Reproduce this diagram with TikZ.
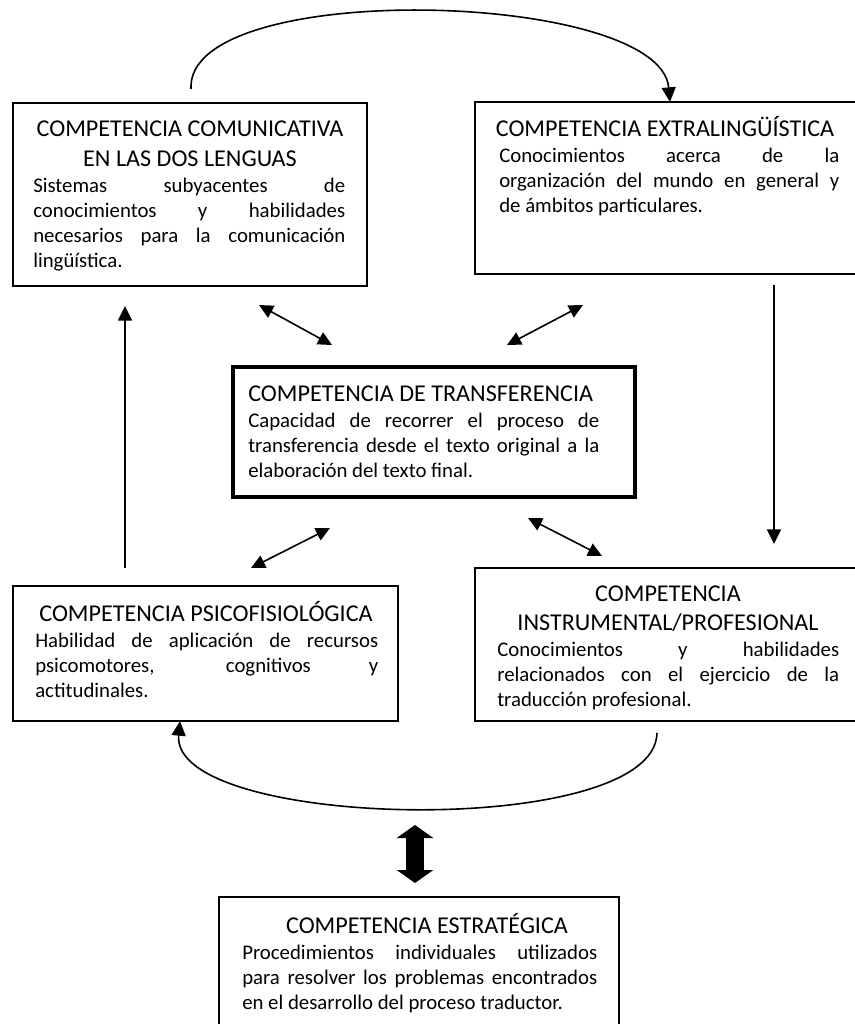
\documentclass[tikz,border=0pt]{standalone}
\usepackage{fontspec}
\setmainfont{Carlito}
\usetikzlibrary{arrows.meta,calc,fit}
\newlength\pxu
\setlength\pxu{0.75pt}
% justified line of a given width (in px units)
\newcommand\jline[2]{\makebox[#1\pxu][s]{#2}}

\tikzset{
  frame/.style={draw, line width=1.5pt, inner sep=0pt, outer sep=0pt},
  ttl/.style={anchor=base, inner sep=0pt, font=\fontsize{18.1pt}{20pt}\selectfont},
  bodyl/.style={anchor=base west, inner sep=0pt, font=\fontsize{15.6pt}{17pt}\selectfont},
  link/.style={line width=1.2pt, -{Triangle[length=11pt,width=10.5pt]}},
  twoway/.style={line width=1.2pt, {Triangle[length=10.5pt,width=10pt]}-{Triangle[length=10.5pt,width=10pt]}},
  bigtwoway/.style={line width=13.7pt, {Triangle[length=9.75pt,width=27pt]}-{Triangle[length=9.75pt,width=27pt]}},
}
% box from two corners
\newcommand\compbox[6][]{%
  \coordinate (#2-nw) at (#3);
  \coordinate (#2-se) at (#4);
  \node[frame, fit=(#2-nw)(#2-se), #1] (#2) {};
}

\begin{document}
\begin{tikzpicture}[x=0.75pt, y=-0.75pt]
  \useasboundingbox (0,0) rectangle (855,1024);
  \clip (0,0) rectangle (855,1024);

  % boxes
  \compbox{A}{13,103}{367,286}{}{}
  \compbox{B}{475,102}{875,274}{}{}
  \compbox[line width=2.4pt]{C}{233,367}{635,497}{}{}
  \compbox{D}{13,586}{398,721}{}{}
  \compbox{E}{475,568}{875,721}{}{}
  \compbox[line width=1.95pt]{F}{219,897}{619,1045}{}{}

  % Competencia comunicativa
  \node[ttl] (aT1) at (190,137) {COMPETENCIA COMUNICATIVA};
  \node[ttl] (aT2) at (190,166) {EN LAS DOS LENGUAS};
  \node[bodyl] (aB1) at (33,192) {\jline{312}{Sistemas subyacentes de}};
  \node[bodyl] (aB2) at (33,217) {\jline{312}{conocimientos y habilidades}};
  \node[bodyl] (aB3) at (33,242) {\jline{312}{necesarios para la comunicación}};
  \node[bodyl] (aB4) at (33,267) {lingüística.};

  % Competencia extralingüística
  \node[ttl] (bT1) at (665,136) {COMPETENCIA EXTRALINGÜÍSTICA};
  \node[bodyl] (bB1) at (499,162) {\jline{340}{Conocimientos acerca de la}};
  \node[bodyl] (bB2) at (499,187) {\jline{340}{organización del mundo en general y}};
  \node[bodyl] (bB3) at (499,212) {de ámbitos particulares.};

  % Competencia de transferencia
  \node[ttl, anchor=base west] (cT1) at (248,401) {COMPETENCIA DE TRANSFERENCIA};
  \node[bodyl] (cB1) at (248,427) {\jline{351}{Capacidad de recorrer el proceso de}};
  \node[bodyl] (cB2) at (248,452) {\jline{351}{transferencia desde el texto original a la}};
  \node[bodyl] (cB3) at (248,477) {elaboración del texto final.};

  % Competencia psicofisiológica
  \node[ttl] (dT1) at (206,621) {COMPETENCIA PSICOFISIOLÓGICA};
  \node[bodyl] (dB1) at (35,647) {\jline{343}{Habilidad de aplicación de recursos}};
  \node[bodyl] (dB2) at (35,672) {\jline{343}{psicomotores, cognitivos y}};
  \node[bodyl] (dB3) at (35,697) {actitudinales.};

  % Competencia instrumental/profesional
  \node[ttl] (eT1) at (668,601) {COMPETENCIA};
  \node[ttl] (eT2) at (668,630) {INSTRUMENTAL/PROFESIONAL};
  \node[bodyl] (eB1) at (497,656) {\jline{342}{Conocimientos y habilidades}};
  \node[bodyl] (eB2) at (497,681) {\jline{342}{relacionados con el ejercicio de la}};
  \begin{scope}
    \clip (470,560) rectangle (875,710);
    \node[bodyl] (eB3) at (497,706) {traducción profesional.};
  \end{scope}

  % Competencia estratégica
  \node[ttl] (fT1) at (427,933) {COMPETENCIA ESTRATÉGICA};
  \node[bodyl] (fB1) at (242,959) {\jline{355}{Procedimientos individuales utilizados}};
  \node[bodyl] (fB2) at (242,984) {\jline{355}{para resolver los problemas encontrados}};
  \node[bodyl] (fB3) at (242,1009) {en el desarrollo del proceso traductor.};

  % free ends of the connectors
  \coordinate (ul1) at (259,305);  \coordinate (ul2) at (332,345);
  \coordinate (ur1) at (507,345);  \coordinate (ur2) at (583,305);
  \coordinate (ll1) at (330,528);  \coordinate (ll2) at (251,568);
  \coordinate (lr1) at (528,518);  \coordinate (lr2) at (602,556);
  \coordinate (dbl1) at (415,825); \coordinate (dbl2) at (415,883);

  % cycle of arrows between the outer boxes
  \draw[link] ($(A.north west)+(178,-14)$) .. controls (185,-22) and (660,-10) .. ($(B.north west)+(195,0)$);
  \draw[link] ($(B.south west)+(299,11)$) -- ($(E.north west)+(299,-24)$);
  \draw[link] ($(E.south west)+(182,12)$) .. controls (655,840) and (170,830) .. ($(D.south west)+(167,0)$);
  \draw[link] ($(D.north west)+(112,-18)$) -- ($(A.south west)+(112,20)$);

  % links with the transfer competence
  \draw[twoway] (ul1) -- (ul2);
  \draw[twoway] (ur1) -- (ur2);
  \draw[twoway] (ll1) -- (ll2);
  \draw[twoway] (lr1) -- (lr2);

  % strategic competence
  \draw[bigtwoway] (dbl1) -- (dbl2);
\end{tikzpicture}
\end{document}
